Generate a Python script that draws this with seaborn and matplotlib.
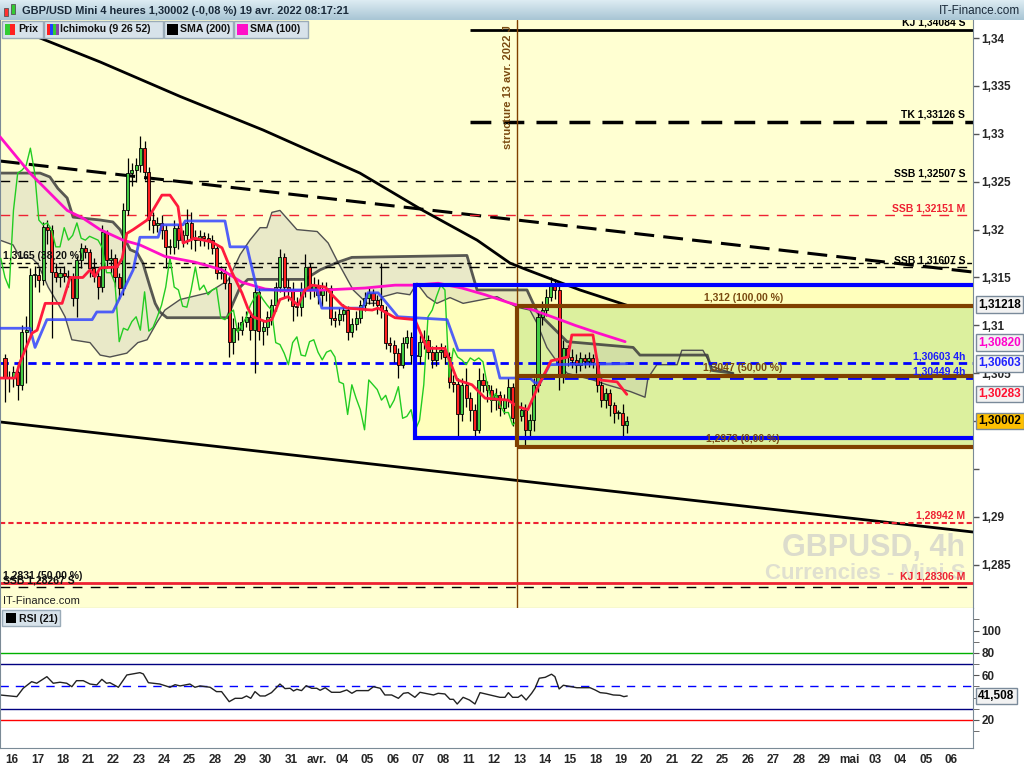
import numpy as np
import matplotlib
matplotlib.use("Agg")
import matplotlib.pyplot as plt
import matplotlib.transforms as mtrans
from matplotlib.patches import Rectangle
from matplotlib.colors import LinearSegmentedColormap
import seaborn as sns

# ---- bougies 4h (GBP/USD), de la gauche jusqu'au 19 avr. 08:00 ----
first_open = 1.3066
closes = [
    1.3045, 1.3045, 1.3051, 1.3038, 1.3093, 1.3095, 1.3153, 1.3153, 1.3147, 1.3203,
    1.3200, 1.3156, 1.3151, 1.3155, 1.3152, 1.3150, 1.3129, 1.3168, 1.3181, 1.3177,
    1.3160, 1.3152, 1.3140, 1.3197, 1.3168, 1.3170, 1.3150, 1.3139, 1.3220, 1.3259,
    1.3262, 1.3267, 1.3285, 1.3260, 1.3210, 1.3205, 1.3207, 1.3200, 1.3182, 1.3182,
    1.3202, 1.3189, 1.3194, 1.3207, 1.3191, 1.3189, 1.3193, 1.3191, 1.3189, 1.3181,
    1.3155, 1.3155, 1.3144, 1.3083, 1.3097, 1.3095, 1.3104, 1.3109, 1.3095, 1.3135,
    1.3094, 1.3098, 1.3109, 1.3121, 1.3140, 1.3171, 1.3140, 1.3137, 1.3120, 1.3119,
    1.3137, 1.3161, 1.3137, 1.3142, 1.3132, 1.3137, 1.3139, 1.3108, 1.3106, 1.3112,
    1.3116, 1.3093, 1.3101, 1.3108, 1.3121, 1.3129, 1.3134, 1.3127, 1.3121, 1.3116,
    1.3082, 1.3080, 1.3071, 1.3059, 1.3082, 1.3088, 1.3069, 1.3068, 1.3083, 1.3085,
    1.3072, 1.3064, 1.3072, 1.3074, 1.3067, 1.3041, 1.3039, 1.3007, 1.3038, 1.3024,
    1.3012, 1.2991, 1.3043, 1.3038, 1.3033, 1.3022, 1.3027, 1.3014, 1.3022, 1.3036,
    1.3003, 1.3005, 1.3012, 1.2991, 1.3001, 1.3038, 1.3109, 1.3116, 1.3130, 1.3142,
    1.3137, 1.3046, 1.3076, 1.3067, 1.3064, 1.3059, 1.3066, 1.3063, 1.3066, 1.3062,
    1.3038, 1.3022, 1.3029, 1.3017, 1.3009, 1.3009, 1.2996, 1.30002]
highs = [
    1.3070, 1.3052, 1.3058, 1.3062, 1.3100, 1.3110, 1.3160, 1.3162, 1.3160, 1.3208,
    1.3210, 1.3205, 1.3165, 1.3160, 1.3162, 1.3158, 1.3155, 1.3172, 1.3186, 1.3184,
    1.3180, 1.3170, 1.3158, 1.3205, 1.3200, 1.3180, 1.3175, 1.3155, 1.3228, 1.3275,
    1.3270, 1.3275, 1.3298, 1.3292, 1.3265, 1.3218, 1.3213, 1.3215, 1.3205, 1.3190,
    1.3210, 1.3206, 1.3200, 1.3222, 1.3218, 1.3200, 1.3200, 1.3198, 1.3196, 1.3194,
    1.3185, 1.3162, 1.3160, 1.3150, 1.3108, 1.3104, 1.3110, 1.3115, 1.3114, 1.3140,
    1.3140, 1.3105, 1.3115, 1.3128, 1.3145, 1.3180, 1.3176, 1.3148, 1.3145, 1.3130,
    1.3145, 1.3175, 1.3165, 1.3150, 1.3148, 1.3145, 1.3145, 1.3142, 1.3115, 1.3118,
    1.3122, 1.3120, 1.3108, 1.3115, 1.3126, 1.3135, 1.3140, 1.3138, 1.3132, 1.3165,
    1.3120, 1.3088, 1.3085, 1.3076, 1.3088, 1.3095, 1.3093, 1.3078, 1.3090, 1.3095,
    1.3090, 1.3078, 1.3080, 1.3082, 1.3080, 1.3072, 1.3048, 1.3045, 1.3045, 1.3055,
    1.3030, 1.3018, 1.3055, 1.3050, 1.3042, 1.3038, 1.3035, 1.3032, 1.3028, 1.3045,
    1.3040, 1.3010, 1.3020, 1.3018, 1.3008, 1.3045, 1.3115, 1.3125, 1.3138, 1.3150,
    1.3148, 1.3145, 1.3085, 1.3080, 1.3075, 1.3070, 1.3072, 1.3070, 1.3072, 1.3070,
    1.3066, 1.3042, 1.3035, 1.3034, 1.3020, 1.3012, 1.3018, 1.3005]
lows = [
    1.3020, 1.3030, 1.3036, 1.3022, 1.3033, 1.3040, 1.3088, 1.3140, 1.3135, 1.3142,
    1.3185, 1.3087, 1.3145, 1.3140, 1.3145, 1.3140, 1.3120, 1.3109, 1.3160, 1.3170,
    1.3150, 1.3145, 1.3128, 1.3135, 1.3160, 1.3155, 1.3140, 1.3128, 1.3132, 1.3215,
    1.3245, 1.3250, 1.3260, 1.3252, 1.3200, 1.3196, 1.3198, 1.3190, 1.3160, 1.3175,
    1.3175, 1.3180, 1.3182, 1.3185, 1.3180, 1.3178, 1.3183, 1.3183, 1.3180, 1.3175,
    1.3148, 1.3148, 1.3138, 1.3067, 1.3070, 1.3085, 1.3090, 1.3098, 1.3085, 1.3050,
    1.3085, 1.3080, 1.3090, 1.3100, 1.3115, 1.3135, 1.3130, 1.3125, 1.3105, 1.3110,
    1.3110, 1.3130, 1.3128, 1.3130, 1.3122, 1.3120, 1.3125, 1.3100, 1.3098, 1.3100,
    1.3105, 1.3085, 1.3088, 1.3095, 1.3102, 1.3115, 1.3122, 1.3120, 1.3112, 1.3108,
    1.3075, 1.3072, 1.3062, 1.3045, 1.3055, 1.3076, 1.3060, 1.3058, 1.3060, 1.3075,
    1.3065, 1.3055, 1.3058, 1.3065, 1.3060, 1.3035, 1.3030, 1.2985, 1.3000, 1.3015,
    1.3000, 1.2985, 1.2988, 1.3030, 1.3020, 1.3010, 1.3012, 1.3005, 1.3008, 1.3015,
    1.2995, 1.2995, 1.3000, 1.2973, 1.2982, 1.2990, 1.3030, 1.3100, 1.3110, 1.3125,
    1.3128, 1.3033, 1.3040, 1.3058, 1.3055, 1.3050, 1.3052, 1.3055, 1.3057, 1.3055,
    1.3030, 1.3015, 1.3014, 1.3005, 1.2998, 1.3002, 1.2985, 1.2988]
chikou_shift = 26

# ---- indicateurs (position en barres, prix) ----
sma200_x = [1.2, 8.3, 22.5, 41.4, 61.0, 83.9, 98.8, 111.6, 119.4, 123.4, 135.9, 147.0]
sma200_y = [1.3413, 1.3400, 1.3375, 1.3339, 1.3304, 1.3259, 1.3220, 1.3189, 1.3165, 1.3158, 1.3137, 1.3121]
sma100_x = [-1.2, 5.9, 14.7, 18.4, 22.5, 27.9, 31.9, 37.8, 44.9, 51.3, 56.0, 61.5, 66.2, 75.7,
            85.1, 92.2, 96.9, 102.4, 108.0, 113.5, 118.9, 123.6, 129.3, 134.8, 140.2, 146.6]
sma100_y = [1.3297, 1.3259, 1.3220, 1.3212, 1.3200, 1.3189, 1.3184, 1.3172, 1.3166, 1.3158, 1.3145,
            1.3138, 1.3136, 1.3137, 1.3139, 1.3142, 1.3142, 1.3144, 1.3139, 1.3132, 1.3124, 1.3118,
            1.3109, 1.3100, 1.3092, 1.3083]
kijun_x = [-1.2, 5.9, 7.1, 9.9, 20.6, 21.7, 25.5, 27.7, 30.3, 31.9, 36.2, 37.1, 42.1, 42.6, 52.0,
           53.2, 57.2, 59.6, 73.8, 74.9, 84.6, 85.8, 88.2, 92.9, 104.5, 107.1, 115.4, 117.0, 124.1,
           125.3, 126.5, 128.8, 147.0]
kijun_y = [1.3097, 1.3097, 1.3077, 1.3106, 1.3106, 1.3114, 1.3114, 1.3134, 1.3158, 1.3192, 1.3192,
           1.3205, 1.3205, 1.3209, 1.3209, 1.3182, 1.3182, 1.3137, 1.3137, 1.3118, 1.3118, 1.3134,
           1.3134, 1.3109, 1.3106, 1.3074, 1.3074, 1.3045, 1.3045, 1.3040, 1.3040, 1.3059, 1.3060]
tenkan_x = [-1.2, 2.4, 3.5, 6.4, 7.6, 9.5, 13.5, 15.4, 18.4, 20.1, 21.3, 22.5, 26.5, 27.7, 28.8,
            30.3, 33.6, 37.1, 39.0, 40.9, 42.1, 44.9, 48.9, 51.3, 53.7, 56.0, 57.4, 58.6, 61.5,
            63.1, 65.0, 66.9, 69.3, 70.9, 72.6, 75.7, 77.3, 79.7, 80.9, 86.8, 88.2, 92.2, 96.9,
            99.8, 104.0, 106.9, 110.4, 113.5, 118.9, 121.3, 123.6, 126.0, 129.1, 133.1, 134.0,
            139.0, 140.7, 144.7, 147.0]
tenkan_y = [1.3045, 1.3045, 1.3061, 1.3092, 1.3095, 1.3123, 1.3123, 1.3150, 1.3150, 1.3158, 1.3151,
            1.3160, 1.3161, 1.3170, 1.3196, 1.3200, 1.3210, 1.3236, 1.3236, 1.3224, 1.3186, 1.3191,
            1.3187, 1.3181, 1.3155, 1.3134, 1.3118, 1.3109, 1.3104, 1.3106, 1.3127, 1.3130, 1.3121,
            1.3137, 1.3142, 1.3140, 1.3132, 1.3121, 1.3118, 1.3116, 1.3118, 1.3108, 1.3106, 1.3076,
            1.3076, 1.3043, 1.3038, 1.3024, 1.3022, 1.3015, 1.3012, 1.3036, 1.3063, 1.3067, 1.3090,
            1.3090, 1.3043, 1.3041, 1.3028]
ssa_x = [-1.2, 1.9, 3.5, 6.4, 7.8, 10.2, 12.5, 14.2, 15.8, 20.1, 22.5, 24.8, 28.8, 31.4, 33.6,
         35.9, 37.8, 41.4, 48.0, 52.7, 55.6, 57.9, 60.3, 61.9, 63.1, 65.0, 67.4, 69.0, 73.8, 76.4,
         78.7, 82.3, 85.6, 87.9, 89.4, 92.7, 95.7, 97.4, 99.8, 102.1, 105.2, 108.3, 113.0, 116.3,
         121.0, 124.1, 125.8, 128.1, 130.5, 132.9, 139.0, 142.3, 147.8, 151.3, 152.0, 154.1, 158.9,
         160.0, 165.0, 167.1, 172.1]
ssa_y = [1.3189, 1.3184, 1.3171, 1.3170, 1.3164, 1.3140, 1.3123, 1.3109, 1.3085, 1.3082, 1.3069,
         1.3067, 1.3071, 1.3082, 1.3085, 1.3103, 1.3116, 1.3127, 1.3134, 1.3147, 1.3174, 1.3189,
         1.3202, 1.3202, 1.3218, 1.3220, 1.3208, 1.3200, 1.3198, 1.3186, 1.3166, 1.3137, 1.3123,
         1.3123, 1.3130, 1.3134, 1.3132, 1.3144, 1.3130, 1.3123, 1.3129, 1.3123, 1.3127, 1.3130,
         1.3119, 1.3116, 1.3102, 1.3077, 1.3062, 1.3050, 1.3043, 1.3038, 1.3031, 1.3025, 1.3045,
         1.3059, 1.3059, 1.3074, 1.3074, 1.3057, 1.3050]
ssb_x = [-1.2, 8.3, 10.6, 12.5, 14.7, 16.1, 22.5, 25.5, 27.2, 29.6, 31.2, 32.6, 34.3, 35.5, 36.6,
         38.3, 52.5, 53.9, 55.6, 57.4, 70.9, 74.5, 78.7, 82.0, 109.2, 111.6, 123.4, 125.8, 132.9,
         148.5, 150.1, 166.0, 167.1, 172.1]
ssb_y = [1.3259, 1.3259, 1.3255, 1.3243, 1.3233, 1.3213, 1.3210, 1.3208, 1.3200, 1.3179, 1.3176,
         1.3165, 1.3140, 1.3123, 1.3114, 1.3108, 1.3108, 1.3123, 1.3140, 1.3148, 1.3148, 1.3158,
         1.3166, 1.3171, 1.3173, 1.3137, 1.3137, 1.3114, 1.3083, 1.3077, 1.3069, 1.3069, 1.3053,
         1.3050]

# ---- RSI (21) ----
rsi_x = [-1.2, 2.8, 4.3, 6.3, 7.5, 9.9, 11.4, 13.0, 14.6, 15.8, 16.9, 18.5, 20.1, 21.7, 22.9,
         24.0, 24.8, 26.8, 28.8, 31.9, 32.7, 33.9, 36.6, 39.0, 40.2, 41.4, 43.7, 44.9, 46.1, 48.5,
         50.0, 51.2, 53.0, 54.4, 56.0, 57.1, 58.1, 59.1, 60.3, 61.5, 63.0, 65.0, 66.2, 67.4, 68.2,
         69.0, 70.1, 71.2, 72.5, 73.7, 74.5, 75.7, 77.2, 79.2, 80.8, 82.0, 83.1, 85.9, 87.1, 88.7,
         89.8, 91.4, 93.0, 94.2, 95.3, 96.9, 98.1, 99.3, 101.3, 102.4, 104.0, 105.2, 106.0, 106.9,
         108.3, 109.8, 111.1, 112.3, 117.0, 118.2, 119.0, 120.0, 121.3, 122.1, 123.2, 124.5, 125.3,
         126.3, 127.7, 129.2, 130.0, 131.0, 132.0, 135.2, 138.3, 139.5, 140.7, 142.2, 143.8, 145.4,
         146.3, 147.1]
rsi_y = [42.4, 40.9, 48.4, 54.3, 52.9, 58.8, 52.9, 53.8, 52.9, 49.8, 55.2, 55.2, 52.2, 51.4, 56.4,
         52.9, 53.4, 49.3, 60.3, 62.4, 61.2, 53.4, 52.2, 49.3, 51.6, 50.5, 52.2, 49.3, 50.5, 49.3,
         45.4, 45.4, 36.4, 39.4, 39.4, 41.5, 39.4, 45.4, 41.5, 41.5, 44.5, 52.2, 48.1, 48.4, 46.0,
         47.5, 46.3, 50.7, 48.4, 48.4, 46.6, 48.9, 44.8, 44.8, 46.9, 43.9, 46.3, 46.3, 49.8, 48.4,
         42.4, 42.4, 39.4, 43.9, 44.5, 40.3, 44.8, 43.9, 42.4, 43.9, 43.3, 38.5, 38.5, 34.3,
         40.3, 37.9, 34.3, 44.5, 40.3, 40.3, 44.5, 40.3, 40.3, 42.4, 37.9, 43.9, 48.4,
         57.4, 58.2, 61.0, 58.8, 47.8, 51.1, 48.9, 48.9, 46.9, 44.5, 43.9, 42.4, 42.1,
         40.9, 41.5]

# ---- niveaux, zones, droites ----
kj_tk_start = 109.9
structure_bar = 121.0
box_left, box_top, box_bottom = 96.9, 1.31422, 1.29824
fib_levels = [1.312, 1.3047, 1.2973]
fib_labels = ["1,312 (100,00 %)", "1,3047 (50,00 %)", "1,2973 (0,00 %)"]
trend_dash = ([-1.2, 228.8], [1.32716, 1.31557])
trend_solid = ([-1.2, 228.8], [1.29992, 1.28843])

day_labels = ["16", "17", "18", "21", "22", "23", "24", "25", "28", "29", "30", "31", "avr.",
              "04", "05", "06", "07", "08", "11", "12", "13", "14", "15", "18", "19", "20", "21",
              "22", "25", "26", "27", "28", "29", "mai", "03", "04", "05", "06"]
price_ticks = [1.285, 1.29, 1.295, 1.30, 1.305, 1.31, 1.315, 1.32, 1.325, 1.33, 1.335, 1.34]
price_tick_labels = ["1,285", "1,29", "", "", "1,305", "1,31", "1,315", "1,32", "1,325",
                     "1,33", "1,335", "1,34"]

# ---- mise en page ----
sns.set_style("white")
plt.rcParams['font.family'] = ['Liberation Sans', 'DejaVu Sans']

W, H = 1024, 768
fig = plt.figure(figsize=(10.24, 7.68), dpi=100)
fig.patch.set_facecolor("white")


def rect(x0, y0, x1, y1):
    return [x0 / W, 1 - y1 / H, (x1 - x0) / W, (y1 - y0) / H]


ax = fig.add_axes(rect(0, 20, 973, 608))
ax_rsi = fig.add_axes(rect(0, 608, 973, 748))
XL = (-5 / 4.23, 968 / 4.23)
ax.set_xlim(*XL)
ax.set_ylim(1.280495, 1.341882)
ax.set_facecolor("#ffffd2")

n = len(closes)
bars = np.arange(n)
c = np.array(closes)
o = np.r_[first_open, c[:-1]]
h = np.maximum(np.array(highs), np.maximum(o, c))
l = np.minimum(np.array(lows), np.minimum(o, c))

# zones
ax.add_patch(Rectangle((box_left, box_bottom), XL[1] - box_left, box_top - box_bottom,
                       facecolor="#ffffbc", edgecolor="none", zorder=0.5))
ax.add_patch(Rectangle((structure_bar, fib_levels[2]), XL[1] - structure_bar,
                       fib_levels[0] - fib_levels[2], facecolor="#dcf09e", edgecolor="none", zorder=0.6))

# nuage ichimoku
ax.fill(np.r_[ssa_x, ssb_x[::-1]], np.r_[ssa_y, ssb_y[::-1]], color="#bdbdb4", alpha=0.32, lw=0, zorder=1)
sns.lineplot(x=ssa_x, y=ssa_y, ax=ax, color="#505050", lw=1, zorder=2)
sns.lineplot(x=ssb_x, y=ssb_y, ax=ax, color="#3c3c3c", lw=2, alpha=0.85, zorder=2)

# droites de tendance
ax.plot(*trend_dash, color="black", lw=2.2, dashes=(6.5, 3), zorder=2)
ax.plot(*trend_solid, color="black", lw=2, zorder=2)

# niveaux horizontaux
full = (XL[0], XL[1])
ax.hlines(1.34084, kj_tk_start, XL[1], color="black", lw=2, zorder=2)
ax.hlines(1.33126, kj_tk_start, XL[1], color="black", lw=2.5, linestyles=(0, (6, 3.5)), zorder=2)
ax.hlines(1.32507, *full, color="black", lw=1, linestyles=(0, (7, 6)), zorder=2)
ax.hlines(1.32151, *full, color="#ee2233", lw=1, linestyles=(0, (7, 6)), zorder=2)
ax.hlines(1.3165, *full, color="black", lw=1, linestyles=(0, (3.5, 2.5)), zorder=2)
ax.hlines(1.31607, *full, color="black", lw=1, linestyles=(0, (7, 6)), zorder=2)
ax.hlines(1.30603, *full, color="#0000ff", lw=2, linestyles=(0, (3, 2)), zorder=2)
ax.hlines(1.30449, structure_bar, XL[1], color="#0000ff", lw=2, linestyles=(0, (5, 3.5)), zorder=2)
ax.hlines(1.28942, *full, color="#ee2233", lw=1.5, linestyles=(0, (2.5, 1.5)), zorder=2)
ax.hlines(1.28267, *full, color="black", lw=1, linestyles=(0, (7, 6)), zorder=2)
ax.hlines(1.28306, *full, color="#ee2233", lw=2, zorder=2.1)
ax.axvline(structure_bar, color="#804000", lw=1, zorder=2)

# filigrane
rt = mtrans.blended_transform_factory(ax.transAxes, ax.transData)
ax.text(0.992, 1.2868, "GBPUSD, 4h", transform=rt, ha="right", va="center", fontsize=22,
        fontweight="bold", color="#dcdccc", zorder=1.5)
ax.text(0.992, 1.2841, "Currencies - Mini S", transform=rt, ha="right", va="center", fontsize=16,
        fontweight="bold", color="#e0e0d0", zorder=1.5)

# bougies
up = c >= o
ax.vlines(bars, l, h, color="black", lw=0.9, zorder=3)
body_lo = np.minimum(o, c)
body_h = np.maximum(np.abs(c - o), 0.00006)
ax.bar(bars[up], body_h[up], bottom=body_lo[up], width=0.72, color="#44cc44",
       edgecolor="black", lw=0.6, zorder=3.5)
ax.bar(bars[~up], body_h[~up], bottom=body_lo[~up], width=0.72, color="#ff2020",
       edgecolor="black", lw=0.6, zorder=3.5)

# lignes d'indicateurs
sns.lineplot(x=bars - chikou_shift, y=c, ax=ax, color="#22cc22", lw=1, zorder=4)
sns.lineplot(x=sma200_x, y=sma200_y, ax=ax, color="black", lw=2, zorder=4)
sns.lineplot(x=sma100_x, y=sma100_y, ax=ax, color="#ff10c8", lw=2, zorder=4)
sns.lineplot(x=kijun_x, y=kijun_y, ax=ax, color="#3344ff", lw=2, alpha=0.85, zorder=4)
sns.lineplot(x=tenkan_x, y=tenkan_y, ax=ax, color="#ff1a3c", lw=2, zorder=4)

# rectangle bleu et Fibonacci
ax.plot([XL[1], box_left, box_left, XL[1]], [box_top, box_top, box_bottom, box_bottom],
        color="#0000ff", lw=3, zorder=5, solid_joinstyle="miter")
for lv in fib_levels:
    ax.hlines(lv, structure_bar, XL[1], color="#804000", lw=3, zorder=5)
ax.vlines(structure_bar, fib_levels[2], fib_levels[0], color="#804000", lw=3, zorder=5)
for lv, txt in zip(fib_levels, fib_labels):
    ax.annotate(txt, (174.5, lv), xytext=(0, 2), textcoords="offset points", ha="center",
                va="bottom", fontsize=7.5, fontweight="bold", color="#7a4a10", zorder=6)

ax.text(119.0, 1.3413, "structure 13 avr. 2022 J", rotation=90, ha="center", va="top",
        fontsize=8, fontweight="bold", color="#7a4a10", zorder=6)

# étiquettes des niveaux (à droite)
right_labels = [
    (1.34084, "KJ 1,34084 S", "black"), (1.33126, "TK 1,33126 S", "black"),
    (1.32507, "SSB 1,32507 S", "black"), (1.32151, "SSB 1,32151 M", "#ee2233"),
    (1.31607, "SSB 1,31607 S", "black"), (1.30603, "1,30603 4h", "#1a1aff"),
    (1.30449, "1,30449 4h", "#1a1aff"), (1.28942, "1,28942 M", "#ee2233"),
    (1.28306, "KJ 1,28306 M", "#ee2233")]
for y, txt, col in right_labels:
    ax.annotate(txt, (0.992, y), xycoords=rt, xytext=(0, 1.5), textcoords="offset points",
                ha="right", va="bottom", fontsize=7.5, fontweight="bold", color=col, zorder=6)
left_labels = [(1.3165, "1,3165 (38,20 %)"), (1.2831, "1,2831 (50,00 %)"), (1.28267, "SSB 1,28267 S")]
for y, txt in left_labels:
    ax.annotate(txt, (0.003, y), xycoords=rt, xytext=(0, 1.5), textcoords="offset points",
                ha="left", va="bottom", fontsize=7.5, fontweight="bold", color="#111111", zorder=6)
ax.text(0.003, 1.2812, "IT-Finance.com", transform=rt, ha="left", va="center", fontsize=8,
        color="#222222", zorder=6)

# axe des prix
ax.yaxis.tick_right()
ax.set_yticks(price_ticks)
ax.set_yticklabels(price_tick_labels)
ax.tick_params(axis="y", direction="out", length=4, width=1, color="#555555", pad=2,
               labelsize=8.5)
for t in ax.get_yticklabels():
    t.set_fontweight("bold")
ax.set_xticks([])
ax.spines["top"].set_visible(False)
for s in ["right", "bottom", "left"]:
    ax.spines[s].set_color("#7a8a96")

price_boxes = [(1.31218, "1,31218", "black", "#f2f2f2"), (1.30820, "1,30820", "#ff00cc", "#f2f2f2"),
               (1.30603, "1,30603", "#2020ff", "#f2f2f2"), (1.30283, "1,30283", "#ff1030", "#f2f2f2"),
               (1.30002, "1,30002", "black", "#ffc000")]
for y, txt, col, fc in price_boxes:
    ax.text(1.0055, y, txt, transform=rt, ha="left", va="center", fontsize=8.5, fontweight="bold",
            color=col, clip_on=False, zorder=7,
            bbox=dict(boxstyle="square,pad=0.2", fc=fc, ec="#7a8a9a", lw=1))

# ---- RSI ----
ax_rsi.set_xlim(*XL)
ax_rsi.set_ylim(-5.1, 120.3)
ax_rsi.axhline(80, color="#00b000", lw=1)
ax_rsi.axhline(70, color="#000080", lw=1)
ax_rsi.axhline(50, color="#0000ff", lw=1, dashes=(6, 5))
ax_rsi.axhline(30, color="#000080", lw=1)
ax_rsi.axhline(20, color="#ff0000", lw=1)
sns.lineplot(x=rsi_x, y=rsi_y, ax=ax_rsi, color="#222222", lw=1)
ax_rsi.yaxis.tick_right()
ax_rsi.set_yticks([20, 60, 80, 100])
ax_rsi.set_yticklabels(["20", "60", "80", "100"])
ax_rsi.set_yticks([10, 30, 40, 50, 70, 90, 110], minor=True)
ax_rsi.tick_params(axis="y", which="both", direction="out", length=4, color="#555555", pad=2,
                   labelsize=8.5)
for t in ax_rsi.get_yticklabels():
    t.set_fontweight("bold")
ax_rsi.set_xticks([1.65 + 6 * d for d in range(len(day_labels))])
ax_rsi.set_xticklabels(day_labels)
ax_rsi.tick_params(axis="x", direction="out", length=3, color="#555555", pad=1, labelsize=8.5)
for t in ax_rsi.get_xticklabels():
    t.set_fontweight("bold")
ax_rsi.set_xlabel("")
ax_rsi.set_ylabel("")
ax.set_xlabel("")
ax.set_ylabel("")
ax_rsi.spines["top"].set_visible(False)
for s in ["right", "bottom", "left"]:
    ax_rsi.spines[s].set_color("#7a8a96")
rr = mtrans.blended_transform_factory(ax_rsi.transAxes, ax_rsi.transData)
ax_rsi.text(1.0055, 41.508, "41,508", transform=rr, ha="left", va="center", fontsize=8.5,
            fontweight="bold", color="black", clip_on=False,
            bbox=dict(boxstyle="square,pad=0.2", fc="#f2f2f2", ec="#7a8a9a", lw=1))

# ---- en-tête et légende (coordonnées pixels) ----
ov = fig.add_axes([0, 0, 1, 1], zorder=10)
ov.patch.set_alpha(0)
hdr = LinearSegmentedColormap.from_list("hdr", ["#dcebf2", "#a9c6d5"])
ov.imshow(np.linspace(0, 1, 20)[:, None], extent=(0, 1024, 20, 0), cmap=hdr, aspect="auto")
ov.set_xlim(0, 1024)
ov.set_ylim(768, 0)
ov.axis("off")
ov.add_patch(Rectangle((4, 8), 4, 8, fc="#ff3030", ec="#555555", lw=0.6))
ov.add_patch(Rectangle((11, 4), 4, 10, fc="#33cc33", ec="#555555", lw=0.6))
ov.text(22, 10.5, "GBP/USD Mini 4 heures 1,30002 (-0,08 %) 19 avr. 2022 08:17:21", fontsize=7.9,
        fontweight="bold", color="#1a2a3a", va="center", ha="left")
ov.text(1020, 10.5, "IT-Finance.com", fontsize=8.5, color="#1a2a3a", va="center", ha="right")

buttons = [("Prix", 2, 43), ("Ichimoku (9 26 52)", 44, 163), ("SMA (200)", 164, 233),
           ("SMA (100)", 234, 308)]
for txt, x0, x1 in buttons:
    ov.add_patch(Rectangle((x0, 20.5), x1 - x0, 17, fc="#d7e2ea", ec="#9aabb8", lw=1))
    ov.text(x0 + 16, 29.5, txt, fontsize=7.6, fontweight="bold", color="#111111", va="center")
ov.add_patch(Rectangle((5, 24), 5, 11, fc="#33cc33", lw=0))
ov.add_patch(Rectangle((10, 24), 5, 11, fc="#ff2020", lw=0))
for k, col in enumerate(["#ff2020", "#2040ff", "#33cc33", "#8844aa"]):
    ov.add_patch(Rectangle((47 + 3 * k, 24), 3, 11, fc=col, lw=0))
ov.add_patch(Rectangle((167, 24), 11, 11, fc="black", lw=0))
ov.add_patch(Rectangle((237, 24), 11, 11, fc="#ff10c8", lw=0))

ov.add_patch(Rectangle((2, 610), 58, 16, fc="#d7e2ea", ec="#9aabb8", lw=1))
ov.add_patch(Rectangle((6, 613), 10, 10, fc="black", lw=0))
ov.text(19, 618.5, "RSI (21)", fontsize=7.6, fontweight="bold", color="#111111", va="center")

fig.savefig("out.png", dpi=100)
